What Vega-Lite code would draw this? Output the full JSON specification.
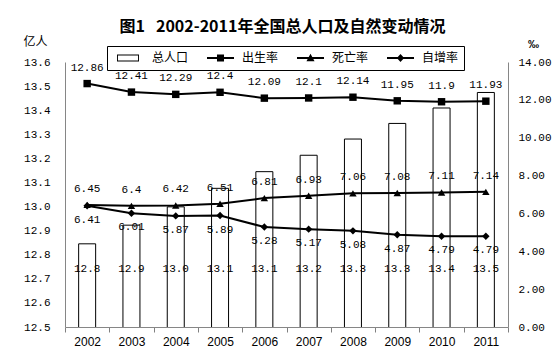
{
  "$schema": "https://vega.github.io/schema/vega-lite/v6.json",
  "width": 443,
  "height": 265,
  "autosize": "none",
  "padding": {"left": 65, "top": 62, "right": 51, "bottom": 32},
  "background": "white",
  "config": {"view": {"stroke": null}},
  "title": {
    "text": "图1\u00a0\u00a0\u00a02002-2011年全国总人口及自然变动情况",
    "font": "Noto Sans CJK SC",
    "fontSize": 16,
    "fontWeight": "bold",
    "color": "black",
    "anchor": "middle",
    "frame": "group",
    "dx": -4,
    "offset": 0
  },
  "datasets": {
    "pop": [
      {"year": "2002", "pop": 12.8453},
      {"year": "2003", "pop": 12.9227},
      {"year": "2004", "pop": 12.9988},
      {"year": "2005", "pop": 13.0756},
      {"year": "2006", "pop": 13.1448},
      {"year": "2007", "pop": 13.2129},
      {"year": "2008", "pop": 13.2802},
      {"year": "2009", "pop": 13.3450},
      {"year": "2010", "pop": 13.4091},
      {"year": "2011", "pop": 13.4735}
    ],
    "rates": [
      {"year": "2002", "series": "出生率", "value": 12.86},
      {"year": "2003", "series": "出生率", "value": 12.41},
      {"year": "2004", "series": "出生率", "value": 12.29},
      {"year": "2005", "series": "出生率", "value": 12.4},
      {"year": "2006", "series": "出生率", "value": 12.09},
      {"year": "2007", "series": "出生率", "value": 12.1},
      {"year": "2008", "series": "出生率", "value": 12.14},
      {"year": "2009", "series": "出生率", "value": 11.95},
      {"year": "2010", "series": "出生率", "value": 11.9},
      {"year": "2011", "series": "出生率", "value": 11.93},
      {"year": "2002", "series": "死亡率", "value": 6.45},
      {"year": "2003", "series": "死亡率", "value": 6.4},
      {"year": "2004", "series": "死亡率", "value": 6.42},
      {"year": "2005", "series": "死亡率", "value": 6.51},
      {"year": "2006", "series": "死亡率", "value": 6.81},
      {"year": "2007", "series": "死亡率", "value": 6.93},
      {"year": "2008", "series": "死亡率", "value": 7.06},
      {"year": "2009", "series": "死亡率", "value": 7.08},
      {"year": "2010", "series": "死亡率", "value": 7.11},
      {"year": "2011", "series": "死亡率", "value": 7.14},
      {"year": "2002", "series": "自增率", "value": 6.41},
      {"year": "2003", "series": "自增率", "value": 6.01},
      {"year": "2004", "series": "自增率", "value": 5.87},
      {"year": "2005", "series": "自增率", "value": 5.89},
      {"year": "2006", "series": "自增率", "value": 5.28},
      {"year": "2007", "series": "自增率", "value": 5.17},
      {"year": "2008", "series": "自增率", "value": 5.08},
      {"year": "2009", "series": "自增率", "value": 4.87},
      {"year": "2010", "series": "自增率", "value": 4.79},
      {"year": "2011", "series": "自增率", "value": 4.79}
    ]
  },
  "layer": [
    {
      "data": {"name": "pop"},
      "mark": {"type": "bar", "width": 17, "fill": "white", "stroke": "black", "strokeWidth": 1, "clip": true},
      "encoding": {
        "x": {
          "field": "year",
          "type": "ordinal",
          "scale": {"paddingInner": 0, "paddingOuter": 0},
          "axis": {
            "title": null,
            "labelAngle": 0,
            "labelFont": "Liberation Sans",
            "labelFontSize": 12,
            "labelColor": "black",
            "labelPadding": 4,
            "tickBand": "extent",
            "ticks": true,
            "tickSize": 5,
            "tickWidth": 1,
            "tickOpacity": 1,
            "tickColor": "#808080",
            "domainColor": "#868686"
          }
        },
        "y": {
          "field": "pop",
          "type": "quantitative",
          "scale": {"domain": [12.5, 13.6], "zero": false, "nice": false},
          "axis": {
            "title": "亿人",
            "titleFont": "Noto Sans CJK SC",
            "titleFontSize": 12,
            "titleFontWeight": "normal",
            "titleColor": "black",
            "titleAngle": 0,
            "titleAlign": "center",
            "titleBaseline": "alphabetic",
            "titleX": -30,
            "titleY": -17,
            "values": [12.5, 12.6, 12.7, 12.8, 12.9, 13.0, 13.1, 13.2, 13.3, 13.4, 13.5, 13.6],
            "format": ".1f",
            "labelOverlap": false,
            "labelFont": "Liberation Mono",
            "labelFontSize": 11,
            "labelColor": "black",
            "ticks": false,
            "labelPadding": 15,
            "domainColor": "#868686",
            "grid": false
          }
        }
      }
    },
    {
      "data": {"name": "pop"},
      "mark": {"type": "text", "font": "Liberation Mono", "fontSize": 11, "color": "black", "baseline": "middle"},
      "encoding": {
        "x": {"field": "year", "type": "ordinal"},
        "y": {"datum": 12.74, "type": "quantitative", "scale": {"domain": [12.5, 13.6], "zero": false, "nice": false}, "axis": null},
        "text": {"field": "pop", "type": "quantitative", "format": ".1f"}
      }
    },
    {
      "data": {"name": "rates"},
      "mark": {"type": "line", "color": "black", "strokeWidth": 2},
      "encoding": {
        "x": {"field": "year", "type": "ordinal"},
        "y": {
          "field": "value",
          "type": "quantitative",
          "scale": {"domain": [0, 14], "nice": false},
          "axis": {
            "orient": "right",
            "title": "‰",
            "titleFont": "Liberation Sans",
            "titleFontSize": 11,
            "titleFontWeight": "bold",
            "titleColor": "black",
            "titleAngle": 0,
            "titleAlign": "center",
            "titleBaseline": "alphabetic",
            "titleX": 25,
            "titleY": -15,
            "values": [0, 2, 4, 6, 8, 10, 12, 14],
            "format": ".2f",
            "labelOverlap": false,
            "labelFont": "Liberation Mono",
            "labelFontSize": 11,
            "labelColor": "black",
            "ticks": false,
            "labelPadding": 10,
            "domainColor": "#868686",
            "grid": false
          }
        },
        "detail": {"field": "series", "type": "nominal"}
      }
    },
    {
      "data": {"name": "rates"},
      "mark": {"type": "point", "filled": true, "color": "black", "opacity": 1},
      "encoding": {
        "x": {"field": "year", "type": "ordinal"},
        "y": {"field": "value", "type": "quantitative", "scale": {"domain": [0, 14], "nice": false}, "axis": null},
        "shape": {
          "field": "series",
          "type": "nominal",
          "scale": {
            "domain": ["出生率", "死亡率", "自增率"],
            "range": ["square", "triangle-up", "diamond"]
          },
          "legend": null
        },
        "size": {"value": 55}
      }
    },
    {
      "data": {"name": "rates"},
      "transform": [{"filter": "false"}],
      "mark": {"type": "point", "filled": true, "color": "black"},
      "encoding": {
        "x": {"field": "year", "type": "ordinal"},
        "y": {"field": "value", "type": "quantitative", "scale": {"domain": [0, 14], "nice": false}, "axis": null},
        "shape": {
          "field": "series",
          "type": "nominal",
          "scale": {
            "domain": ["总人口", "出生率", "死亡率", "自增率"],
            "range": [
              "M-1,-0.26H0.63V0.26H-1ZM-0.93,-0.19V0.19H0.56V-0.19Z",
              "M-1,-0.07H1V0.07H-1ZM-0.26,-0.26H0.26V0.26H-0.26Z",
              "M-1,-0.07H1V0.07H-1ZM0,-0.32L0.3,0.24H-0.3Z",
              "M-1,-0.07H1V0.07H-1ZM0,-0.3L0.27,0L0,0.3L-0.27,0Z"
            ]
          },
          "legend": {
            "title": null,
            "orient": "none",
            "direction": "horizontal",
            "legendX": 42,
            "legendY": -16,
            "padding": 5,
            "fillColor": "white",
            "strokeColor": "black",
            "labelFont": "Noto Sans CJK SC",
            "labelFontSize": 12,
            "labelColor": "black",
            "labelOffset": 8,
            "symbolOffset": 5,
            "columnPadding": 13,
            "clipHeight": 14,
            "symbolSize": 729,
            "symbolFillColor": "black",
            "symbolStrokeColor": "black",
            "symbolStrokeWidth": 0,
            "symbolOpacity": 1
          }
        }
      }
    },
    {
      "data": {"name": "rates"},
      "transform": [{"filter": "datum.series !== '自增率'"}],
      "mark": {"type": "text", "font": "Liberation Mono", "fontSize": 11, "color": "black", "baseline": "middle", "dy": -16},
      "encoding": {
        "x": {"field": "year", "type": "ordinal"},
        "y": {"field": "value", "type": "quantitative", "scale": {"domain": [0, 14], "nice": false}, "axis": null},
        "text": {"field": "value", "type": "nominal"}
      }
    },
    {
      "data": {"name": "rates"},
      "transform": [{"filter": "datum.series === '自增率'"}],
      "mark": {"type": "text", "font": "Liberation Mono", "fontSize": 11, "color": "black", "baseline": "middle", "dy": 14},
      "encoding": {
        "x": {"field": "year", "type": "ordinal"},
        "y": {"field": "value", "type": "quantitative", "scale": {"domain": [0, 14], "nice": false}, "axis": null},
        "text": {"field": "value", "type": "nominal"}
      }
    }
  ],
  "resolve": {"scale": {"y": "independent", "shape": "independent"}}
}
